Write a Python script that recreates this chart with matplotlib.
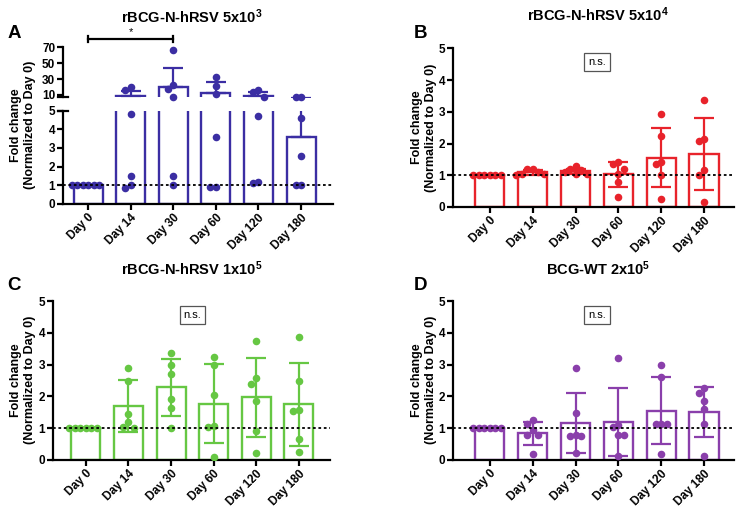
import numpy as np
import matplotlib
matplotlib.use("Agg")
import matplotlib.pyplot as plt

plt.rcParams['font.family'] = ['Liberation Sans', 'DejaVu Sans']
plt.rcParams['font.weight'] = 'bold'
plt.rcParams['mathtext.fontset'] = 'custom'
plt.rcParams['mathtext.rm'] = 'Liberation Sans:bold'
plt.rcParams['mathtext.default'] = 'rm'

days = ["Day 0", "Day 14", "Day 30", "Day 60", "Day 120", "Day 180"]

# panel A - rBCG-N-hRSV 5x10^3
a_mean = [1.0, 8.9, 20.5, 12.9, 8.0, 3.6]
a_sd = [0.0, 6.5, 23.2, 13.1, 5.4, 2.6]
a_points = [
    [1.0, 1.0, 1.0, 1.0, 1.0, 1.0],
    [20.5, 16.3, 4.8, 1.5, 1.0, 0.87],
    [66.8, 22.6, 17.2, 7.8, 1.52, 1.0],
    [33.0, 21.7, 11.3, 3.6, 0.92, 0.93],
    [16.3, 13.4, 7.9, 4.68, 1.1, 1.15],
    [7.8, 7.8, 4.62, 2.58, 1.0, 1.0],
]

# panel B - rBCG-N-hRSV 5x10^4
b_mean = [1.0, 1.1, 1.12, 1.03, 1.55, 1.67]
b_sd = [0.0, 0.08, 0.09, 0.4, 0.93, 1.12]
b_points = [
    [1.0, 1.0, 1.0, 1.0, 1.0, 1.0],
    [1.2, 1.2, 1.1, 1.05, 1.0, 1.05],
    [1.3, 1.2, 1.15, 1.1, 1.05, 1.05],
    [1.42, 1.36, 1.2, 1.05, 0.8, 0.33],
    [2.92, 2.25, 1.43, 1.35, 1.0, 0.25],
    [3.38, 2.15, 2.07, 1.15, 1.0, 0.15],
]

# panel C - rBCG-N-hRSV 1x10^5
c_mean = [1.0, 1.7, 2.28, 1.77, 1.97, 1.75]
c_sd = [0.0, 0.81, 0.9, 1.24, 1.25, 1.31]
c_points = [
    [1.0, 1.0, 1.0, 1.0, 1.0, 1.0],
    [2.9, 2.5, 1.45, 1.2, 1.05, 1.0],
    [3.35, 3.0, 2.7, 1.92, 1.62, 1.0],
    [3.25, 3.0, 2.03, 1.07, 1.05, 0.1],
    [3.75, 2.58, 2.4, 1.85, 0.9, 0.22],
    [3.87, 2.5, 1.58, 1.53, 0.65, 0.25],
]

# panel D - BCG-WT 2x10^5
d_mean = [1.0, 0.84, 1.17, 1.2, 1.55, 1.52]
d_sd = [0.0, 0.37, 0.94, 1.06, 1.06, 0.79]
d_points = [
    [1.0, 1.0, 1.0, 1.0, 1.0, 1.0],
    [1.25, 1.12, 0.93, 0.8, 0.8, 0.2],
    [2.9, 1.48, 0.8, 0.77, 0.75, 0.22],
    [3.22, 1.1, 1.03, 0.8, 0.8, 0.12],
    [3.0, 2.6, 1.12, 1.12, 1.12, 0.18],
    [2.25, 2.1, 1.85, 1.6, 1.12, 0.13],
]

W, H = 742, 508
fig = plt.figure(figsize=(W / 100, H / 100), dpi=100)


def px_rect(l, t, r, b):
    return [l / W, 1 - b / H, (r - l) / W, (b - t) / H]


def style_axis(ax, bottom=True):
    for s in ['top', 'right']:
        ax.spines[s].set_visible(False)
    ax.spines['left'].set_linewidth(1.6)
    ax.spines['bottom'].set_linewidth(1.6)
    ax.tick_params(direction='out', length=4, width=1.6, labelsize=8.5, pad=1.5)
    if not bottom:
        ax.spines['bottom'].set_visible(False)
        ax.tick_params(axis='x', bottom=False, labelbottom=False)


def swarm(ax, x0, vals, step=5.5, dy_min=7.5):
    # simple beeswarm in pixel space, returns x positions in data units
    vals = np.asarray(vals, dtype=float)
    ys = ax.transData.transform(np.column_stack([np.zeros(len(vals)), vals]))[:, 1]
    px_per_unit = ax.transData.transform((1, 0))[0] - ax.transData.transform((0, 0))[0]
    offs = np.zeros(len(vals))
    placed = []
    for i in np.argsort(-ys):
        k = 0
        while True:
            cand = 0 if k == 0 else (-((k + 1) // 2) * step if k % 2 else (k // 2) * step)
            if all(abs(cand - ox) >= step * 0.99 or abs(ys[i] - oy) >= dy_min
                   for ox, oy in placed):
                break
            k += 1
        offs[i] = cand
        placed.append((cand, ys[i]))
    return x0 + offs / px_per_unit


def draw_panel(ax, means, sds, points, color, upper_only=False, keep=None):
    x = np.arange(len(days))
    ax.bar(x, means, width=0.68, facecolor='none', edgecolor=color, linewidth=1.7, zorder=2)
    if upper_only:
        yerr = [np.zeros(len(sds)), sds]
    else:
        yerr = sds
    ax.errorbar(x, means, yerr=yerr, fmt='none', ecolor=color, elinewidth=1.6,
                capsize=7.5, capthick=1.6, zorder=3)
    for i, vals in enumerate(points):
        vals = [v for v in vals if keep is None or keep(v)]
        if not vals:
            continue
        xs = swarm(ax, i, vals)
        ax.scatter(xs, vals, s=30, color=color, zorder=4, linewidths=0,
                   clip_on=keep is None)
    ax.axhline(1.0, color='black', linestyle=(0, (1.5, 1.5)), linewidth=1.3, zorder=5)
    ax.set_xticks(x)
    ax.set_xticklabels(days, rotation=45, ha='right', rotation_mode='anchor')


ylab = "Fold change\n(Normalized to Day 0)"

# ---- panel A (broken axis) ----
axA_top = fig.add_axes(px_rect(63, 47.5, 333, 96.8))
axA = fig.add_axes(px_rect(63, 110.5, 333, 204))
for ax in (axA, axA_top):
    ax.set_xlim(-0.59, 5.75)
axA.set_ylim(0, 5)
axA_top.set_ylim(7.6, 70)
style_axis(axA)
style_axis(axA_top, bottom=False)
draw_panel(axA, a_mean, a_sd, a_points, '#3b2ea3', upper_only=True, keep=lambda v: v <= 5.1)
draw_panel(axA_top, a_mean, a_sd, a_points, '#3b2ea3', upper_only=True, keep=lambda v: v >= 7.5)
axA.set_yticks([0, 1, 2, 3, 4, 5])
axA_top.set_yticks([10, 30, 50, 70])
axA_top.set_xticks([])
# break marks
for ax, yy in ((axA, 1.0), (axA_top, 0.0)):
    ax.plot([-0.018, 0.018], [yy, yy], transform=ax.transAxes, color='black',
            linewidth=1.6, clip_on=False)
# significance bracket Day 0 vs Day 30
axA_top.plot([0, 2], [81, 81], color='black', linewidth=1.6, clip_on=False)
axA_top.plot([0, 0], [77.5, 84.5], color='black', linewidth=1.6, clip_on=False)
axA_top.plot([2, 2], [77.5, 84.5], color='black', linewidth=1.6, clip_on=False)
axA_top.text(1, 83, "*", ha='center', va='bottom', fontsize=8, fontweight='normal')

# ---- panels B, C, D ----
axB = fig.add_axes(px_rect(453, 48.3, 734, 207))
axC = fig.add_axes(px_rect(53, 301, 330, 460))
axD = fig.add_axes(px_rect(453, 301, 734, 460))
axB.set_xlim(-0.86, 5.7)
axC.set_xlim(-0.77, 5.73)
axD.set_xlim(-0.86, 5.7)
for ax in (axB, axC, axD):
    ax.set_ylim(0, 5)
    style_axis(ax)
draw_panel(axB, b_mean, b_sd, b_points, '#e8232b')
draw_panel(axC, c_mean, c_sd, c_points, '#66c743')
draw_panel(axD, d_mean, d_sd, d_points, '#8a3fab')
for ax in (axB, axC, axD):
    ax.set_yticks([0, 1, 2, 3, 4, 5])
    ax.text(2.5, 4.57, "n.s.", ha='center', va='center', fontsize=8, fontweight='normal',
            bbox=dict(boxstyle='square,pad=0.35', facecolor='white', edgecolor='#555555',
                      linewidth=0.9))

for ax in (axA, axA_top, axB, axC, axD):
    for lab in ax.get_xticklabels() + ax.get_yticklabels():
        lab.set_fontweight('bold')

# titles, panel letters and y labels (pixel positions)
titles = [("rBCG-N-hRSV 5x10$^3$", 192, 17), ("rBCG-N-hRSV 5x10$^4$", 598, 15),
          ("rBCG-N-hRSV 1x10$^5$", 192, 269), ("BCG-WT 2x10$^5$", 598, 269)]
for txt, xp, yp in titles:
    fig.text(xp / W, 1 - yp / H, txt, ha='center', va='center', fontsize=10.5, fontweight='bold')

for lt, xp, yp in (("A", 14, 33), ("B", 421, 33), ("C", 14, 286), ("D", 421, 286)):
    fig.text(xp / W, 1 - yp / H, lt, ha='center', va='center', fontsize=13.5, fontweight='bold')

for xp, yp in ((23, 125), (424, 127.5), (23, 380), (424, 380)):
    fig.text(xp / W, 1 - yp / H, ylab, ha='center', va='center', rotation=90,
             fontsize=9, fontweight='bold', multialignment='center', linespacing=1.15)

fig.savefig("out.png", dpi=100)
